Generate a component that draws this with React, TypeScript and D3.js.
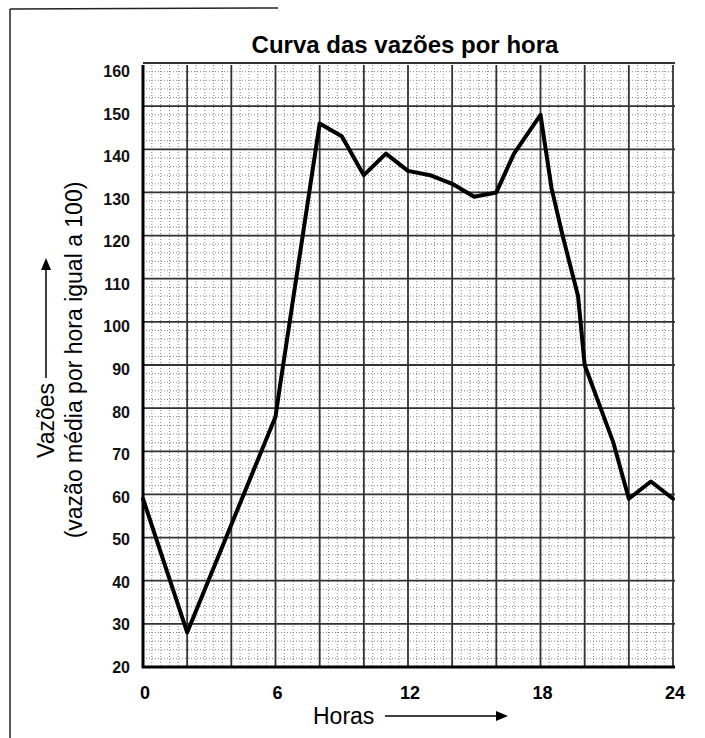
import React from "react";
import * as d3 from "d3";

const hours = [0, 2, 6, 6.2, 8, 9, 10, 11, 12, 13, 14, 15, 16, 16.8, 18, 18.5, 19, 19.7, 20, 21.3, 22, 23, 24];
const flows = [59, 28, 78, 85, 146, 143, 134, 139, 135, 134, 132, 129, 130, 139, 148, 131, 120, 106, 90, 72, 59, 63, 59];
const xTicks = [0, 6, 12, 18, 24];
const yTicks = [20, 30, 40, 50, 60, 70, 80, 90, 100, 110, 120, 130, 140, 150, 160];
const title = "Curva das vazões por hora";
const xTitle = "Horas";
const yTitle1 = "Vazões";
const yTitle2 = "(vazão média por hora igual a 100)";

const W = 705;
const H = 738;
const x = d3.scaleLinear().domain([0, 24]).range([143, 673]);
const y = d3.scaleLinear().domain([20, 160]).range([667, 63]);
const yLab = d3.scaleLinear().domain([20, 160]).range([667, 71]);

export default function App() {
  const line = d3
    .line<number>()
    .x((_, i) => x(hours[i]))
    .y((d) => y(d));
  const majorX = d3.range(0, 25, 2);
  const majorY = d3.range(20, 161, 10);
  const minorX = d3.range(0, 24.01, 0.4);
  const minorY = d3.range(20, 160.01, 2);
  const font = "'Liberation Sans', Arial, Helvetica, sans-serif";
  return (
    <svg
      width={W}
      height={H}
      style={{ position: "absolute", left: 0, top: 0, background: "#fff" }}
      fontFamily={font}
    >
      {/* scan edges */}
      <line x1={10} y1={9} x2={278} y2={8} stroke="#222" strokeWidth={1.5} />
      <line x1={10} y1={9} x2={10} y2={738} stroke="#222" strokeWidth={1.5} />

      {/* minor texture */}
      <g stroke="#555" strokeWidth={1} strokeDasharray="1 2" opacity={0.7}>
        {minorX.map((h, i) => (
          <line key={"mx" + i} x1={x(h)} x2={x(h)} y1={y(160) + 2} y2={y(20)} />
        ))}
        {minorY.map((v, i) => (
          <line key={"my" + i} x1={x(0)} x2={x(24)} y1={y(v)} y2={y(v)} />
        ))}
      </g>

      {/* major grid */}
      <g stroke="#333" strokeWidth={1.8}>
        {majorY.map((v) => (
          <line key={"gy" + v} x1={x(0)} x2={x(24) + 2} y1={y(v)} y2={y(v)} />
        ))}
        {majorX.map((h) => (
          <line key={"gx" + h} x1={x(h)} x2={x(h)} y1={y(160) + 2} y2={y(20)} />
        ))}
      </g>
      <line x1={x(0)} x2={x(0)} y1={y(160) + 2} y2={y(20) + 1} stroke="#000" strokeWidth={3} />
      <line x1={x(0) - 1} x2={x(24) + 2} y1={y(20)} y2={y(20)} stroke="#000" strokeWidth={3} />

      {/* curve */}
      <path
        d={line(flows) || ""}
        fill="none"
        stroke="#000"
        strokeWidth={4}
        strokeLinejoin="round"
        strokeLinecap="round"
      />

      {/* y tick labels */}
      {yTicks.map((v) => (
        <text key={"yt" + v} x={130} y={yLab(v) + 6} textAnchor="end" fontSize={16} fontWeight="bold" fill="#111">
          {v}
        </text>
      ))}
      {/* x tick labels */}
      {xTicks.map((h) => (
        <text key={"xt" + h} x={x(h) + 2} y={699} textAnchor="middle" fontSize={18} fontWeight="bold" fill="#000">
          {h}
        </text>
      ))}

      {/* title */}
      <text x={405} y={53} textAnchor="middle" fontSize={24} fontWeight="bold" fill="#000">
        {title}
      </text>

      {/* x axis title with arrow */}
      <text x={313} y={724} fontSize={23} fill="#000">
        {xTitle}
      </text>
      <line x1={385} y1={716} x2={498} y2={716} stroke="#000" strokeWidth={1.5} />
      <path d="M 496 711 L 508 716 L 496 721 Z" fill="#000" />

      {/* y axis titles */}
      <text transform="translate(54,458) rotate(-90)" fontSize={23} fill="#000">
        {yTitle1}
      </text>
      <line x1={46} y1={378} x2={46} y2={268} stroke="#000" strokeWidth={1.5} />
      <path d="M 41 270 L 46 258 L 51 270 Z" fill="#000" />
      <text transform="translate(82,360) rotate(-90)" textAnchor="middle" fontSize={23} fill="#000">
        {yTitle2}
      </text>
    </svg>
  );
}
